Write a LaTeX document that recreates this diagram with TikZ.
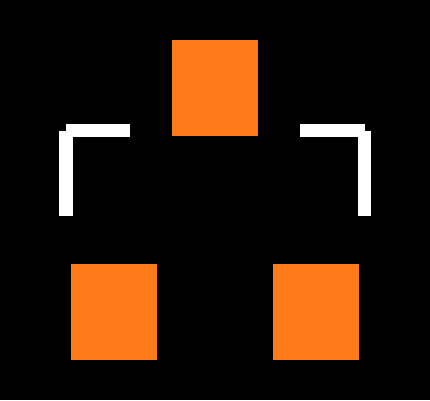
\documentclass[tikz,border=0pt]{standalone}
\definecolor{boxorange}{RGB}{253,121,26}
\tikzset{
  orangebox/.style={fill=boxorange, draw=none, inner sep=0pt, minimum width=86pt, minimum height=96pt, anchor=north west},
  bracketbar/.style={fill=white, draw=none}
}
\begin{document}
\begin{tikzpicture}[x=1pt,y=-1pt]
  \fill[black] (0,0) rectangle (430,400);
  \useasboundingbox (0,0) rectangle (430,400);
  \node[orangebox] (top) at (172,40) {};
  \node[orangebox] (bl) at (71,264) {};
  \node[orangebox] (br) at (273,264) {};
  % left bracket
  \fill[bracketbar] (66,124) rectangle (129.5,137);
  \fill[bracketbar] (59,130.5) rectangle (72.5,216);
  % right bracket
  \fill[bracketbar] (300,124) rectangle (364.5,137);
  \fill[bracketbar] (357.5,130.5) rectangle (371,216);
\end{tikzpicture}
\end{document}
